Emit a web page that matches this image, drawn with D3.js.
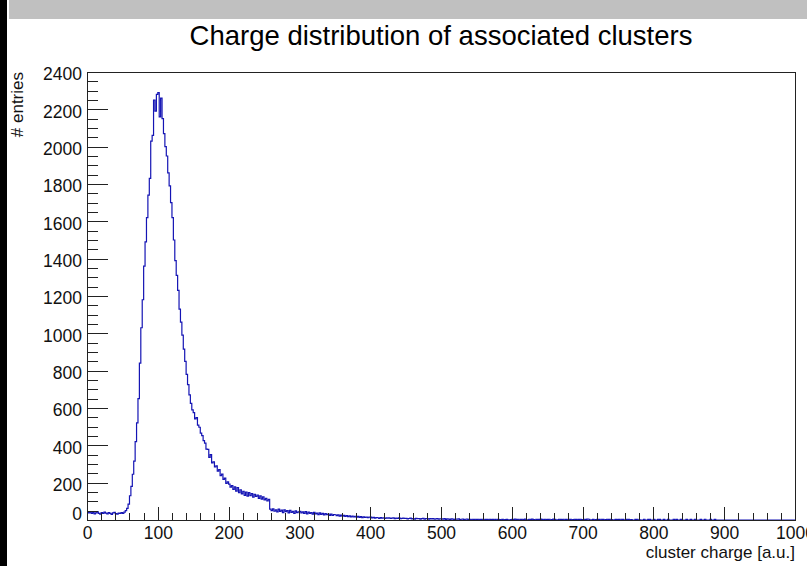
<!DOCTYPE html>
<html>
<head>
<meta charset="utf-8">
<script src="https://cdn.jsdelivr.net/npm/d3@7"></script>
<style>
  body { margin: 0; background: #fff; }
  svg { display: block; font-family: "Liberation Sans", Arial, Helvetica, sans-serif; }
</style>
</head>
<body>
<div id="chart"></div>
<script>
// histogram: 500 bins of width 2 from 0 to 1000
const binWidth = 2;
const xDomain = [0, 1000];
const yDomain = [0, 2400];

const counts = [
  // 0 - 48
  45, 38, 42, 35, 40, 33, 38, 44, 36, 31, 39, 35, 42, 37, 33, 40, 36, 30, 38, 41, 34, 32, 37, 35, 39,
  // 50 - 98
  36, 42, 50, 62, 85, 130, 180, 245, 315, 420, 520, 650, 840, 1030, 1180, 1360, 1490, 1620, 1740, 1830, 2030, 2060, 2250, 2190, 2280,
  // 100 - 148
  2290, 2160, 2260, 2150, 2070, 2000, 1950, 1860, 1790, 1700, 1620, 1500, 1390, 1310, 1230, 1130, 1060, 990, 915, 850, 780, 725, 670, 625, 590,
  // 150 - 198
  575, 542, 548, 508, 497, 465, 452, 425, 412, 380, 378, 336, 350, 306, 312, 284, 290, 262, 270, 238, 246, 218, 224, 196, 204,
  // 200 - 248
  192, 176, 184, 164, 178, 155, 174, 146, 162, 140, 154, 132, 150, 128, 147, 131, 142, 122, 138, 126, 134, 116, 129, 112, 124,
  // 250 - 298
  108, 116, 102, 110, 58, 50, 60, 47, 55, 44, 58, 46, 53, 40, 54, 45, 50, 38, 52, 41, 47, 36, 49, 40, 44,
  // 300 - 348
  46, 38, 44, 35, 45, 33, 42, 36, 40, 31, 41, 33, 37, 29, 38, 30, 35, 27, 34, 28, 32, 25, 31, 24, 29,
  // 350 - 398
  28, 23, 27, 21, 26, 20, 25, 19, 23, 18, 22, 17, 21, 16, 20, 15, 19, 14, 18, 13, 17, 14, 16, 12, 15,
  // 400 - 448
  15, 11, 14, 10, 13, 12, 9, 13, 10, 12, 8, 11, 10, 12, 8, 10, 11, 7, 10, 9, 11, 7, 9, 10, 8,
  // 450 - 498
  9, 6, 8, 10, 6, 8, 5, 9, 7, 8, 5, 7, 9, 5, 7, 8, 4, 7, 6, 8, 4, 6, 7, 4, 6,
  // 500 - 548
  6, 4, 7, 3, 6, 5, 3, 6, 5, 2, 5, 4, 6, 2, 4, 5, 2, 4, 5, 2, 4, 1, 4, 3, 4,
  // 550 - 598
  3, 4, 1, 3, 4, 1, 3, 3, 1, 4, 2, 3, 1, 3, 0, 3, 2, 1, 3, 0, 2, 3, 1, 0, 2,
  // 600 - 648
  4, 3, 5, 2, 4, 0, 3, 4, 2, 5, 0, 1, 4, 3, 5, 2, 0, 3, 4, 2, 5, 3, 1, 4, 2,
  // 650 - 698
  3, 4, 0, 2, 5, 3, 0, 1, 4, 3, 2, 4, 0, 3, 1, 4, 3, 0, 2, 4, 3, 1, 3, 4, 2,
  // 700 - 748
  0, 4, 3, 5, 4, 0, 1, 3, 0, 2, 4, 3, 0, 4, 3, 0, 2, 4, 3, 4, 2, 0, 1, 3, 2,
  // 750 - 798
  3, 0, 4, 3, 0, 1, 4, 3, 0, 2, 0, 0, 3, 4, 0, 1, 0, 0, 4, 0, 0, 3, 4, 0, 0,
  // 800 - 848
  3, 0, 0, 4, 3, 0, 0, 4, 0, 0, 3, 0, 0, 0, 4, 0, 3, 0, 0, 4, 0, 0, 0, 3, 0,
  // 850 - 898
  0, 3, 0, 0, 4, 0, 0, 0, 3, 0, 0, 4, 0, 0, 0, 3, 0, 0, 3, 0, 0, 0, 0, 0, 0,
  // 900 - 948
  0, 0, 0, 0, 0, 0, 0, 0, 0, 0, 0, 0, 0, 0, 0, 0, 0, 0, 0, 0, 0, 0, 0, 0, 0,
  // 950 - 998
  0, 0, 0, 0, 0, 0, 0, 0, 0, 0, 0, 0, 0, 0, 0, 0, 0, 0, 0, 0, 0, 0, 0, 0, 0
];

const xTicks = [0, 100, 200, 300, 400, 500, 600, 700, 800, 900, 1000];
const yTicks = [0, 200, 400, 600, 800, 1000, 1200, 1400, 1600, 1800, 2000, 2200, 2400];
const xMinorStep = 20;
const yMinorStep = 50;

const titleText = "Charge distribution of associated clusters";
const xLabel = "cluster charge [a.u.]";
const yLabel = "# entries";

const W = 807, H = 566;
const plot = { left: 87, right: 795, top: 72, bottom: 520 };

const svg = d3.select("#chart").append("svg")
  .attr("width", W)
  .attr("height", H);

svg.append("rect").attr("width", W).attr("height", H).attr("fill", "#fff");
// window decorations
svg.append("rect").attr("x", 0).attr("y", 0).attr("width", 7).attr("height", H).attr("fill", "#000");
svg.append("rect").attr("x", 9).attr("y", 0).attr("width", W - 9).attr("height", 19).attr("fill", "#c0c0c0");

const x = d3.scaleLinear().domain(xDomain).range([plot.left, plot.right]);
const y = d3.scaleLinear().domain(yDomain).range([plot.bottom, plot.top]);

// histogram outline
const pts = counts.map((c, i) => [i * binWidth, c]);
pts.push([xDomain[1], counts[counts.length - 1]]);

const line = d3.line()
  .x(d => x(d[0]))
  .y(d => y(d[1]))
  .curve(d3.curveStepAfter);

svg.append("path")
  .datum(pts)
  .attr("fill", "none")
  .attr("stroke", "#1414b4")
  .attr("stroke-width", 1.2)
  .attr("d", line);

// axes
const axisColor = "#222";

const xMinor = d3.range(xDomain[0], xDomain[1] + 1, xMinorStep).filter(v => !xTicks.includes(v));
const yMinor = d3.range(yDomain[0], yDomain[1] + 1, yMinorStep).filter(v => !yTicks.includes(v));

const gx = svg.append("g")
  .attr("transform", `translate(0,${plot.bottom})`)
  .call(d3.axisBottom(x).tickValues(xTicks).tickSize(-13).tickPadding(7).tickFormat(d3.format("d")));
const gxm = svg.append("g")
  .attr("transform", `translate(0,${plot.bottom})`)
  .call(d3.axisBottom(x).tickValues(xMinor).tickSize(-7).tickFormat(""));

const gy = svg.append("g")
  .attr("transform", `translate(${plot.left},0)`)
  .call(d3.axisLeft(y).tickValues(yTicks).tickSize(-21).tickPadding(5).tickFormat(d3.format("d")));
const gym = svg.append("g")
  .attr("transform", `translate(${plot.left},0)`)
  .call(d3.axisLeft(y).tickValues(yMinor).tickSize(-11).tickFormat(""));

[gx, gxm, gy, gym].forEach(g => {
  g.select(".domain").remove();
  g.selectAll("line").attr("stroke", axisColor).attr("shape-rendering", "crispEdges");
  g.selectAll("text")
    .attr("fill", "#111")
    .style("font-size", "17.5px")
    .style("font-family", "'Liberation Sans', Arial, Helvetica, sans-serif");
});

gy.selectAll("text").attr("dy", "0.45em");
gy.selectAll(".tick").filter(d => d === 0).select("text").attr("dy", "-0.05em");

// frame
svg.append("rect")
  .attr("x", plot.left)
  .attr("y", plot.top)
  .attr("width", plot.right - plot.left)
  .attr("height", plot.bottom - plot.top)
  .attr("fill", "none")
  .attr("stroke", axisColor)
  .attr("stroke-width", 1)
  .attr("shape-rendering", "crispEdges");

// texts
svg.append("text")
  .attr("x", 441)
  .attr("y", 45)
  .attr("text-anchor", "middle")
  .attr("fill", "#000")
  .style("font-size", "27.5px")
  .text(titleText);

svg.append("text")
  .attr("x", plot.right)
  .attr("y", 558)
  .attr("text-anchor", "end")
  .attr("fill", "#111")
  .style("font-size", "17px")
  .text(xLabel);

svg.append("text")
  .attr("transform", `translate(23,${plot.top}) rotate(-90)`)
  .attr("text-anchor", "end")
  .attr("fill", "#111")
  .style("font-size", "17px")
  .text(yLabel);
</script>
</body>
</html>
